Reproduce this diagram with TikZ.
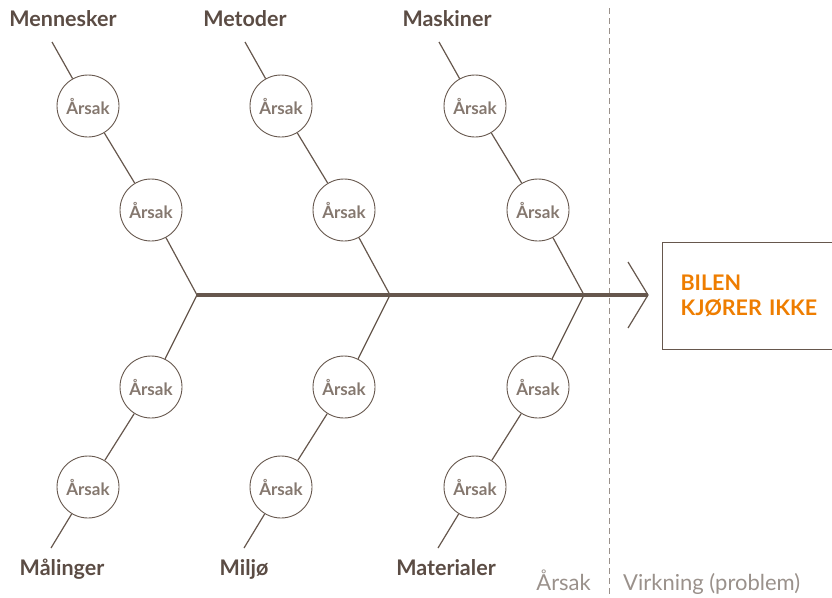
\documentclass[tikz,border=0pt]{standalone}
\usepackage{fontspec}
\setmainfont{Lato}
\usetikzlibrary{
    positioning,
    calc
}

\definecolor{fishbrown}{HTML}{66574D}
\definecolor{labelbrown}{HTML}{5B4C44}
\definecolor{causegray}{HTML}{85786F}
\definecolor{notegray}{HTML}{9A918B}
\definecolor{effectorange}{HTML}{EE7D00}

\tikzset{
    bone/.style={draw=fishbrown, line width=1.2pt},
    cause/.style={circle, draw=fishbrown, line width=0.9pt, fill=white, minimum size=62pt, inner sep=0pt, text=causegray, font=\bfseries\fontsize{17}{20}\selectfont},
    category/.style={text=labelbrown, font=\bfseries\fontsize{21.5}{25}\selectfont, inner sep=2pt, text height=16pt, text depth=5pt},
    note/.style={text=notegray, font=\fontsize{22}{26}\selectfont, inner sep=0pt}
}

\begin{document}
\begin{tikzpicture}[x=1pt, y=-1pt]
        \useasboundingbox (0,0) rectangle (832,597);

        % Cause / effect divider
        \draw[notegray, line width=1pt, dash pattern=on 6pt off 4pt] (609,8) -- (609,597);
        \node[note, anchor=base east] (causetext) at (591,590) {Årsak};
        \node[note, anchor=base west] (effecttext) at (623,590) {Virkning (problem)};

        % Spine
        \coordinate (tail) at (197,295);
        \coordinate (head) at (648,295);
        \coordinate (headup) at (628,262);
        \coordinate (headdown) at (628,328);
        \draw[fishbrown, line width=4pt] (tail) -- (head);
        \draw[bone] (headup) -- (head) -- (headdown);

        % Effect
        \node[draw=fishbrown, line width=1pt, anchor=west, minimum height=107pt,
              text width=160pt, inner xsep=18pt, align=left, text=effectorange,
              font=\bfseries\fontsize{21.5}{25}\selectfont] (effect) at (662,295.5) {BILEN\\KJØRER IKKE};

        % Bones
        \foreach \jx/\dx/\up/\down [count=\i] in {197/11/Mennesker/Målinger, 390/0/Metoder/Miljø, 584/8/Maskiner/Materialer} {
            \coordinate (j\i) at (\jx,295);
            % upper bone
            \node[cause] (u\i a) at ($(j\i)+(-46,-85)$) {Årsak};
            \node[cause] (u\i b) at ($(j\i)+(-109,-189)$) {Årsak};
            \coordinate (u\i e) at ($(j\i)+(-145,-253)$);
            \draw[bone] (j\i) -- (u\i a) -- (u\i b) -- (u\i e);
            \node[category, above=8pt of u\i e, xshift=\dx pt] (u\i t) {\up};
            % lower bone
            \node[cause] (d\i a) at ($(j\i)+(-46,92)$) {Årsak};
            \node[cause] (d\i b) at ($(j\i)+(-109,192)$) {Årsak};
            \coordinate (d\i e) at ($(j\i)+(-146,253)$);
            \draw[bone] (j\i) -- (d\i a) -- (d\i b) -- (d\i e);
            \node[category, below=9pt of d\i e, xshift=\dx pt] (d\i t) {\down};
        }
\end{tikzpicture}
\end{document}
